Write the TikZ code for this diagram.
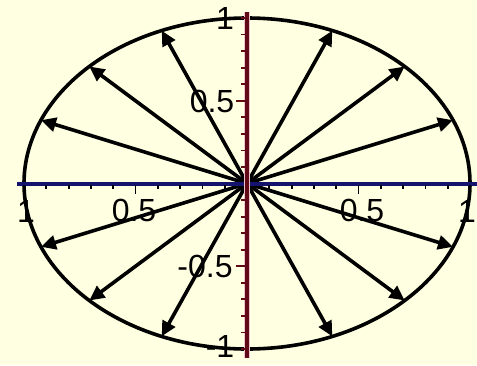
\documentclass[tikz,border=0pt]{standalone}
\usepackage{fontspec}
\setmainfont{Liberation Sans}
\usetikzlibrary{arrows.meta}
\definecolor{bgyellow}{RGB}{255,255,225}
\definecolor{axisblue}{RGB}{20,20,110}
\definecolor{axisred}{RGB}{95,10,20}
\definecolor{axispink}{RGB}{240,195,210}
\begin{document}
\begin{tikzpicture}[x=1pt,y=-1pt,
  lbl/.style={inner sep=0pt,font=\fontsize{32}{32}\selectfont},
  curve/.style={line width=3.6pt,black},
  arr/.style={line width=3.6pt,black,-{Triangle[length=15pt,width=14pt]}},
  tick/.style={line width=1.8pt,black}]
\fill[bgyellow] (0,0) rectangle (477,365);
\useasboundingbox (0,0) rectangle (477,365);
\coordinate (O) at (247,183.5);
% labels
\node[lbl] (ytop) at (225,18) {1};
\node[lbl,anchor=north] (ybot) at (220,335) {-1};
\node[lbl] (yhalf) at (212,101.5) {0.5};
\node[lbl] (ymhalf) at (205,266.5) {-0.5};
\node[lbl] (xmhalf) at (134,210) {0.5};
\node[lbl] (xhalf) at (362,210) {0.5};
\node[lbl] (xleft) at (26,211) {1};
\node[lbl] (xright) at (467,211) {1};
% arrow end points on the ellipse
\foreach \a [count=\i] in {22.5,45,67.5,112.5,135,157.5,202.5,225,247.5,292.5,315,337.5}
  \coordinate (e\i) at ({247+223*cos(\a)},{183.5-165.5*sin(\a)});
\foreach \i in {1,...,12}
  \draw[arr] (O) -- (e\i);
% ellipse
\draw[curve] (O) ellipse [x radius=223pt, y radius=165.5pt];
% axes
\coordinate (hl) at (17,183.5);
\coordinate (hr) at (477,183.5);
\coordinate (vt) at (247,12);
\coordinate (vb) at (247,358);
\draw[line width=4pt,axisblue] (hl) -- (hr);
\draw[line width=6.5pt,axispink] (vt) -- (vb);
\draw[line width=3.5pt,axisred] (vt) -- (vb);
% ticks
\foreach \k in {-10,...,-1,1,2,...,10}{
  \pgfmathsetmacro{\tl}{ifthenelse(abs(\k)==5,10,5)}
  \draw[tick] ({247+22.3*\k},185) -- ({247+22.3*\k},{184+\tl});
  \draw[tick,axisred] ({246-\tl},{183.5-16.55*\k}) -- (246,{183.5-16.55*\k});
}
\end{tikzpicture}
\end{document}
